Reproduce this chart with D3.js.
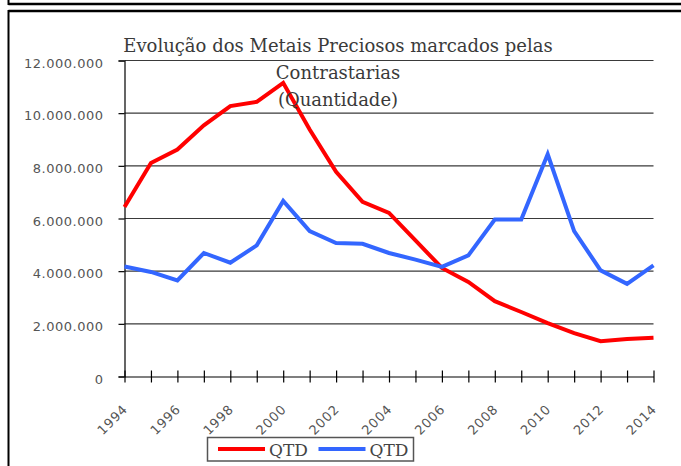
<!DOCTYPE html>
<html lang="pt">
<head>
    <meta charset="UTF-8">
    <title>Evolução dos Metais Preciosos</title>
    <script src="https://d3js.org/d3.v7.min.js"></script>
    <style>
        body {
            margin: 0;
            padding: 0;
            overflow: hidden;
            background-color: #fff;
        }
    </style>
</head>
<body>
    <div id="chart"></div>
    <script>
        // data
        const years = d3.range(1994, 2015);
        const qtdRed = [6440000, 8110000, 8620000, 9540000, 10270000, 10430000, 11150000,
            9380000, 7770000, 6630000, 6210000, 5170000, 4120000, 3590000, 2860000,
            2450000, 2030000, 1650000, 1340000, 1420000, 1470000];
        const qtdBlue = [4180000, 3970000, 3650000, 4690000, 4320000, 4980000, 6670000,
            5520000, 5070000, 5040000, 4690000, 4440000, 4160000, 4600000, 5960000,
            5960000, 8440000, 5520000, 4030000, 3520000, 4220000];
        const yTicks = [0, 2000000, 4000000, 6000000, 8000000, 10000000, 12000000];
        const xLabels = d3.range(1994, 2015, 2);
        const titleLines = ["Evolução dos Metais Preciosos marcados pelas", "Contrastarias", "(Quantidade)"];
        const legendNames = ["QTD", "QTD"];
        const colors = ["#ff0000", "#3366ff"];

        const width = 681, height = 466;
        const svg = d3.select("#chart").append("svg")
            .attr("width", width)
            .attr("height", height);

        // frame lines
        svg.append("line").attr("x1", 8.5).attr("x2", width).attr("y1", 4).attr("y2", 4)
            .attr("stroke", "#000").attr("stroke-width", 2.5);
        svg.append("line").attr("x1", 8.5).attr("x2", 8.5).attr("y1", 0).attr("y2", 5)
            .attr("stroke", "#000").attr("stroke-width", 2);
        svg.append("line").attr("x1", 8.5).attr("x2", width).attr("y1", 11).attr("y2", 11)
            .attr("stroke", "#000").attr("stroke-width", 2.5);
        svg.append("line").attr("x1", 8.5).attr("x2", 8.5).attr("y1", 10).attr("y2", height)
            .attr("stroke", "#000").attr("stroke-width", 2);

        const x = d3.scaleLinear().domain([1994, 2014]).range([124.5, 653.5]);
        const y = d3.scaleLinear().domain([0, 12000000]).range([376.5, 60.5]);

        const locale = d3.formatLocale({decimal: ",", thousands: ".", grouping: [3], currency: ["", ""]});
        const fmt = locale.format(",d");

        // gridlines
        svg.append("g").selectAll("line")
            .data(yTicks.filter(d => d > 0))
            .join("line")
            .attr("x1", x(1994)).attr("x2", x(2014))
            .attr("y1", d => y(d)).attr("y2", d => y(d))
            .attr("stroke", "#3a3a3a").attr("stroke-width", 1.2);

        // y axis
        const yAxis = svg.append("g").attr("transform", `translate(${x(1994)},0)`)
            .call(d3.axisLeft(y).tickValues(yTicks).tickSize(6).tickFormat(fmt));
        yAxis.select(".domain").attr("stroke", "#000").attr("stroke-width", 1.2);
        yAxis.selectAll(".tick line").attr("stroke", "#000").attr("stroke-width", 1.2);
        yAxis.selectAll(".tick text")
            .attr("x", -21).attr("dy", "0.5em")
            .style("font-family", "DejaVu Sans").style("font-size", "13px")
            .style("letter-spacing", "0.5px").attr("fill", "#555");

        // x axis
        const xAxis = svg.append("g").attr("transform", `translate(0,${y(0)})`)
            .call(d3.axisBottom(x).tickValues(years).tickSize(0).tickFormat(""));
        xAxis.select(".domain").attr("stroke", "#000").attr("stroke-width", 1.2);
        xAxis.selectAll(".tick line").attr("y1", -6).attr("y2", 6)
            .attr("stroke", "#000").attr("stroke-width", 1.2);

        svg.append("g").selectAll("text")
            .data(xLabels)
            .join("text")
            .attr("transform", d => `translate(${x(d) + 4},410) rotate(-45)`)
            .attr("text-anchor", "end")
            .style("font-family", "DejaVu Sans").style("font-size", "13px")
            .style("letter-spacing", "0.8px").attr("fill", "#555")
            .text(d => d);

        // lines
        const line = d3.line().x((d, i) => x(years[i])).y(d => y(d));
        [qtdRed, qtdBlue].forEach((s, k) => {
            svg.append("path")
                .datum(s)
                .attr("d", line)
                .attr("fill", "none")
                .attr("stroke", colors[k])
                .attr("stroke-width", 4)
                .attr("stroke-linejoin", "miter");
        });

        // title
        svg.append("g").selectAll("text")
            .data(titleLines)
            .join("text")
            .attr("x", 338)
            .attr("y", (d, i) => 52 + i * 27)
            .attr("text-anchor", "middle")
            .style("font-family", "DejaVu Serif").style("font-size", "18px")
            .attr("fill", "#3a3a3a")
            .text(d => d);

        // legend
        const leg = svg.append("g");
        leg.append("rect").attr("x", 207.5).attr("y", 437.5).attr("width", 206).attr("height", 23.5)
            .attr("fill", "#fff").attr("stroke", "#555").attr("stroke-width", 1.5);
        legendNames.forEach((name, k) => {
            const lx = 218 + k * 100.5;
            leg.append("line").attr("x1", lx).attr("x2", lx + 47).attr("y1", 449).attr("y2", 449)
                .attr("stroke", colors[k]).attr("stroke-width", 4);
            leg.append("text").attr("x", lx + 51).attr("y", 455.5)
                .style("font-family", "DejaVu Serif").style("font-size", "17px")
                .attr("fill", "#444").text(name);
        });
    </script>
</body>
</html>
